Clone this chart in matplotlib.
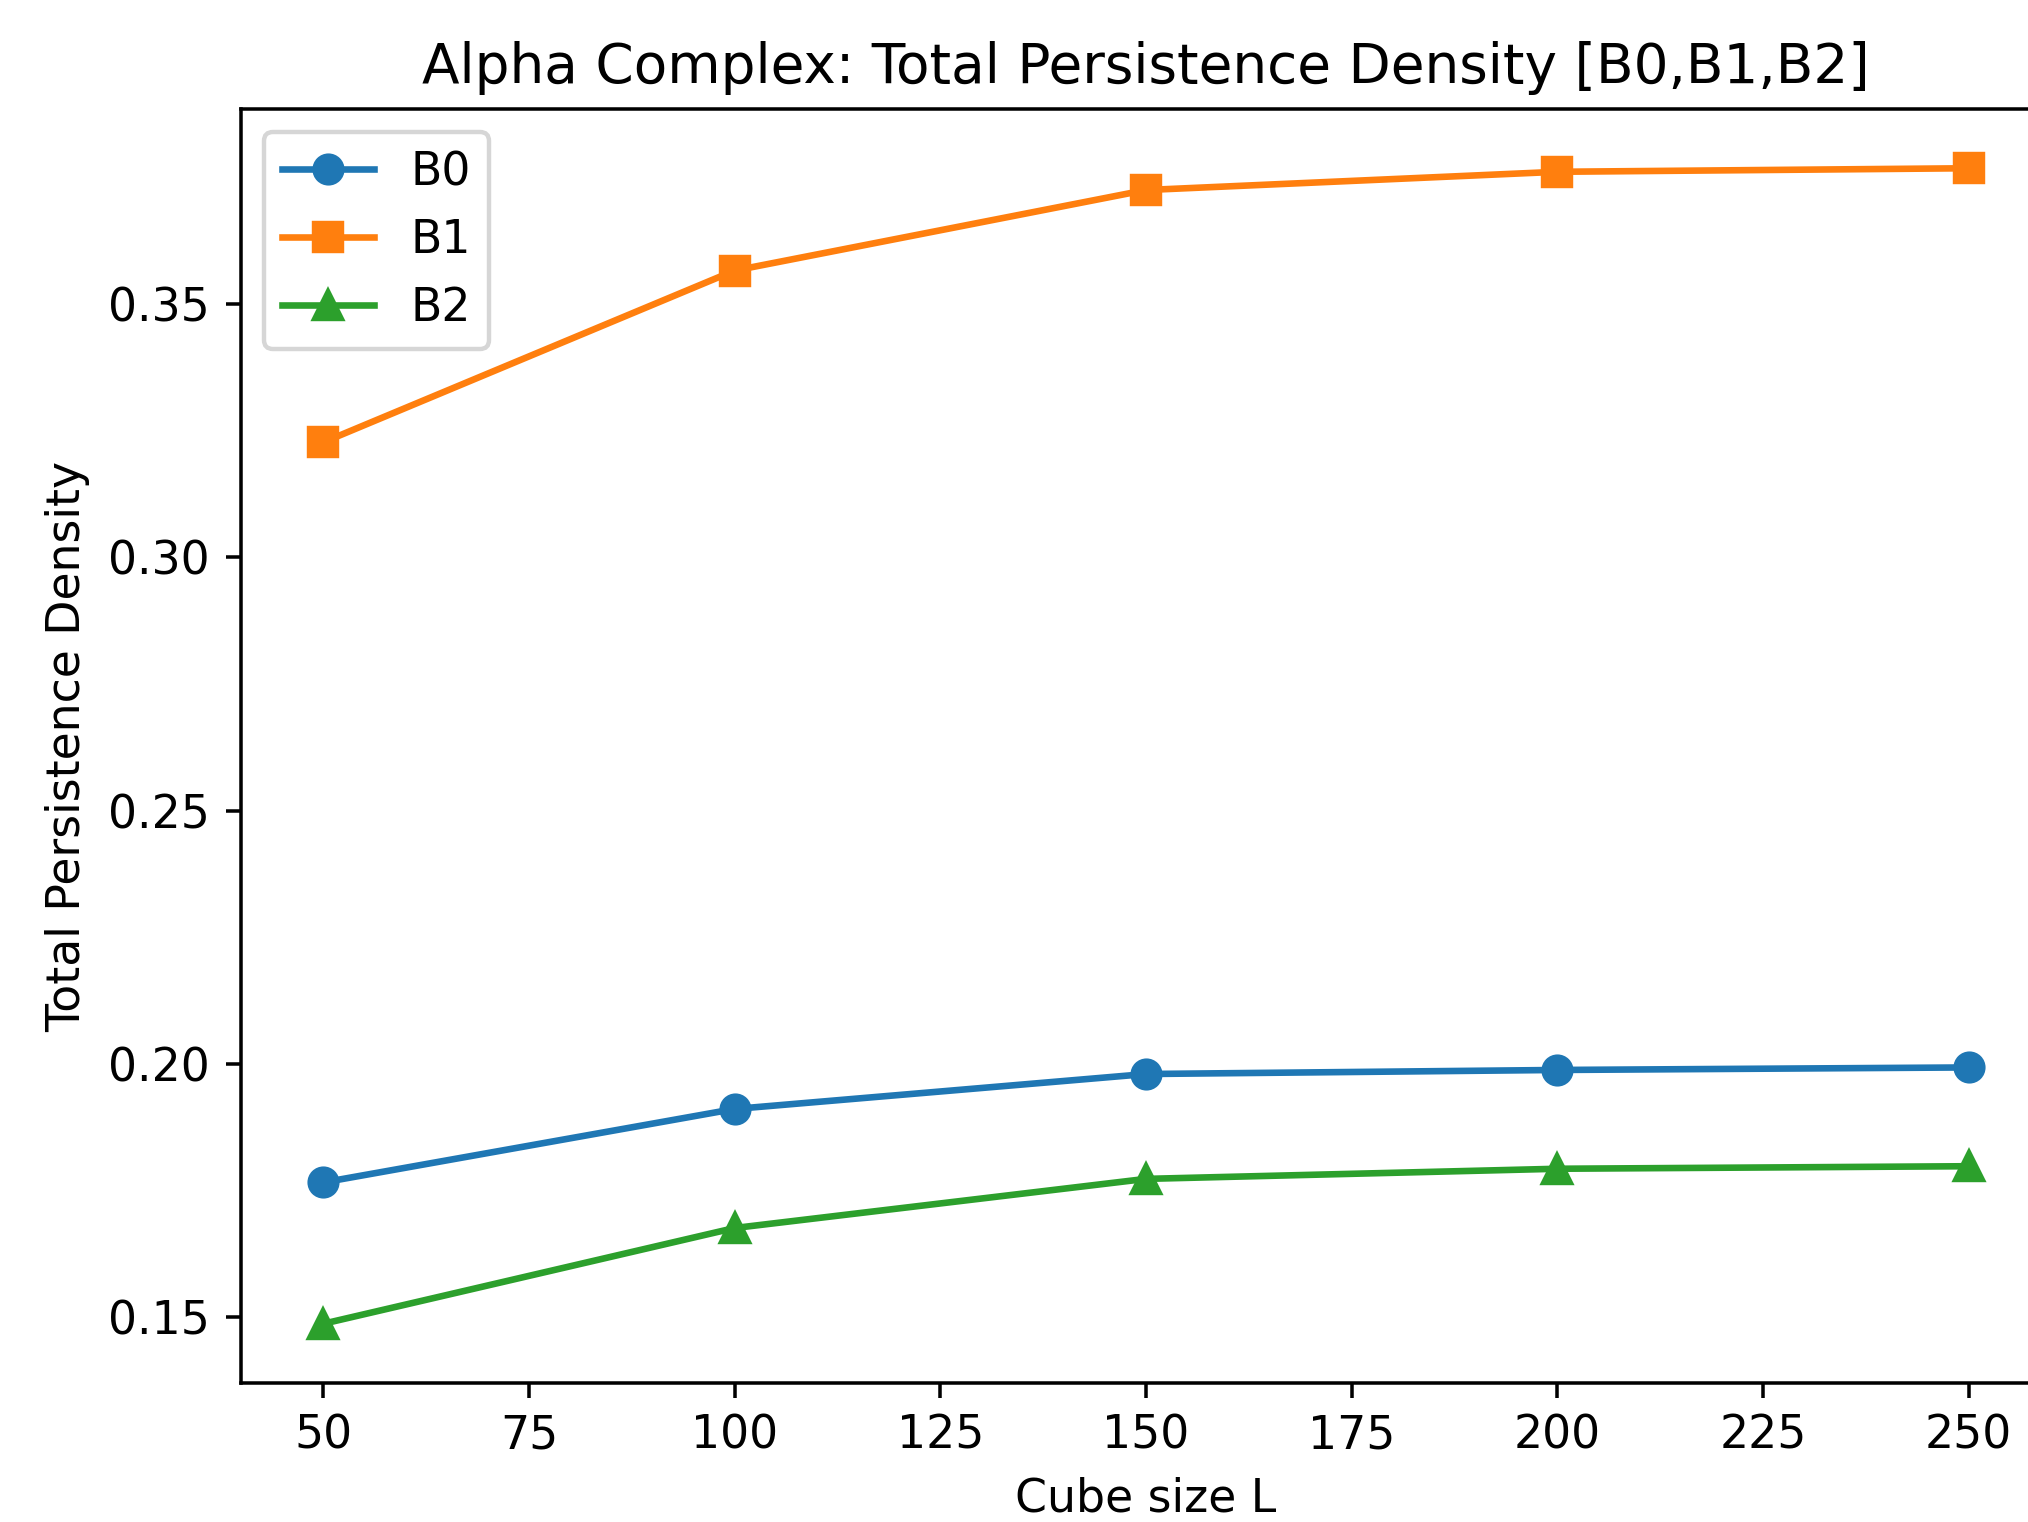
import matplotlib
matplotlib.use("Agg")
import matplotlib.pyplot as plt

cube_sizes = [50, 100, 150, 200, 250]
b0 = [0.1766, 0.1911, 0.1980, 0.1988, 0.1993]
b1 = [0.3227, 0.3566, 0.3725, 0.3761, 0.3768]
b2 = [0.1487, 0.1676, 0.1773, 0.1793, 0.1798]

plt.rcParams["font.size"] = 10.4

dpi = 317
fig = plt.figure(figsize=(2028 / dpi, 1522 / dpi), dpi=dpi)
ax = fig.add_axes([0.1188, 0.0913, 1.0113 - 0.1188, 0.9284 - 0.0913])

ax.plot(cube_sizes, b0, marker="o", markersize=6.3, label="B0")
ax.plot(cube_sizes, b1, marker="s", markersize=6.3, label="B1")
ax.plot(cube_sizes, b2, marker="^", markersize=6.3, label="B2")

ax.set_xlim(40, 260)
ax.set_ylim(0.137, 0.3885)
ax.set_xticks([50, 75, 100, 125, 150, 175, 200, 225, 250])
ax.set_yticks([0.15, 0.20, 0.25, 0.30, 0.35])
ax.set_xlabel("Cube size L")
ax.set_ylabel("Total Persistence Density")
ax.set_title("Alpha Complex: Total Persistence Density [B0,B1,B2]")
ax.legend(loc="upper left")

fig.savefig("out.png", dpi=dpi)
